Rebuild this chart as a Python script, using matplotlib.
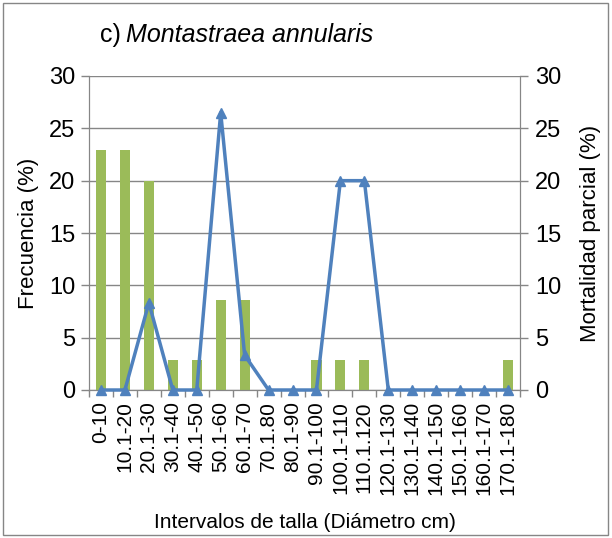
import numpy as np
import matplotlib
matplotlib.use("Agg")
import matplotlib.pyplot as plt
from matplotlib.patches import Rectangle

plt.rcParams["font.family"] = ["Liberation Sans", "DejaVu Sans"]

intervalos = ["0-10", "10.1-20", "20.1-30", "30.1-40", "40.1-50", "50.1-60",
              "60.1-70", "70.1.80", "80.1-90", "90.1-100", "100.1-110",
              "110.1.120", "120.1-130", "130.1-140", "140.1-150", "150.1-160",
              "160.1-170", "170.1-180"]
frecuencia = [22.9, 22.9, 20.0, 2.86, 2.86, 8.57, 8.57, 0, 0, 2.86, 2.86,
              2.86, 0, 0, 0, 0, 0, 2.86]
mortalidad = [0, 0, 8.33, 0, 0, 26.5, 3.33, 0, 0, 0, 20, 20, 0, 0, 0, 0, 0, 0]

grey = "#868686"
green = "#9BBB59"
blue = "#4F81BD"

fig = plt.figure(figsize=(6.12, 5.38), dpi=100)
ax = fig.add_axes([89/612, 1-390/538, (520-89)/612, (390-76)/538])
ax2 = ax.twinx()

x = np.arange(len(intervalos))
ax.bar(x, frecuencia, width=0.42, color=green, zorder=2)
ax2.plot(x, mortalidad, color=blue, lw=2.5, marker="^", ms=7.5, zorder=3,
         clip_on=False)

for a in (ax, ax2):
  a.set_ylim(0, 30)
  a.set_yticks(range(0, 31, 5))
  a.set_xlim(-0.5, len(intervalos) - 0.5)
  for s in a.spines.values():
    s.set_color(grey)
  a.spines["top"].set_visible(False)
  a.tick_params(axis="y", colors=grey, labelcolor="black", labelsize=17,
                length=6, width=1)

ax.yaxis.grid(True, color=grey, lw=1, zorder=0)
ax.set_axisbelow(True)
ax.tick_params(axis="y", pad=4)
ax2.tick_params(axis="y", pad=5)
ax2.set_zorder(ax.get_zorder() + 1)
ax2.patch.set_visible(False)

ax.set_xticks(x)
ax.set_xticklabels(intervalos, rotation=90, fontsize=15)
ax.tick_params(axis="x", length=0, pad=8)
ax.set_xticks(np.arange(-0.5, len(intervalos)), minor=True)
ax.tick_params(axis="x", which="minor", length=5, colors=grey, width=1)

ax.set_ylabel("Frecuencia (%)", fontsize=16, labelpad=7)
ax2.set_ylabel("Mortalidad parcial (%)", fontsize=16, labelpad=13)
ax.set_xlabel("Intervalos de talla (Diámetro cm)", fontsize=15, labelpad=13)

fig.text(100/612, 1-35/538, "c) ", fontsize=18, va="center", ha="left")
fig.text(126/612, 1-35/538, "Montastraea annularis", fontsize=18,
         style="italic", va="center", ha="left")

fig.patches.append(Rectangle((3/612, 3/538), 605/612, 532/538,
                             transform=fig.transFigure, fill=False,
                             edgecolor=grey, lw=1))

fig.savefig("out.png", dpi=100)
